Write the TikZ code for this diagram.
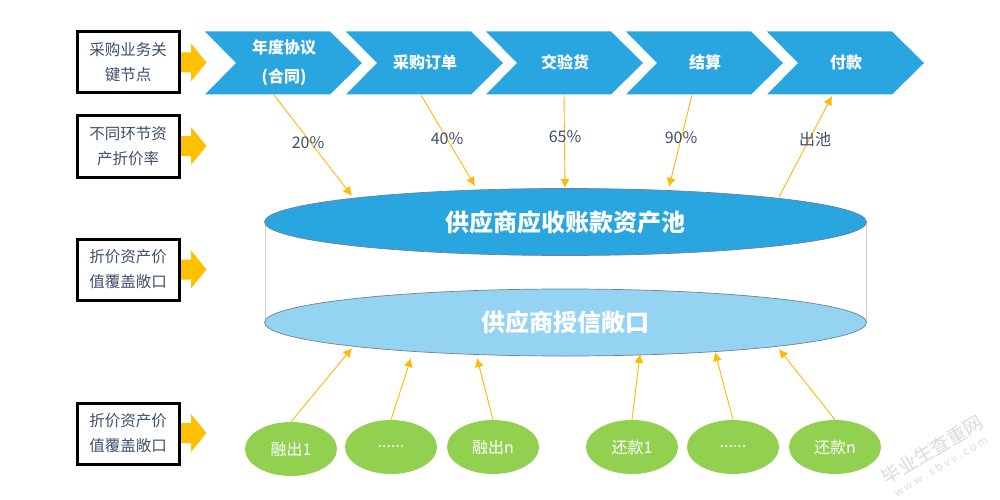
\documentclass[tikz,border=0pt]{standalone}
\usepackage{fontspec}
\setmainfont{Noto Sans CJK SC}
\usetikzlibrary{calc,shapes.geometric,arrows.meta}
\definecolor{chevblue}{HTML}{29A5E0}
\definecolor{lightpool}{HTML}{94D3F1}
\definecolor{amber}{HTML}{FFC000}
\definecolor{inktext}{HTML}{3F4F6B}
\definecolor{leaf}{HTML}{92D050}
\definecolor{edgegray}{HTML}{6F8296}
\definecolor{sidegray}{HTML}{D2D2C8}
\tikzset{
  keybox/.style={draw=black,line width=3pt,fill=white,minimum width=102pt,minimum height=61pt,inner sep=0pt,align=center,text=inktext,font=\fontsize{15.5}{25}\selectfont},
  chevtext/.style={text=white,inner sep=0pt,align=center,font=\fontsize{16}{29}\selectfont\bfseries},
  rate/.style={text=inktext,inner sep=1pt,font=\fontsize{16}{20}\selectfont},
  disc/.style={ellipse,draw=edgegray,line width=0.7pt,minimum width=602pt,minimum height=67pt,inner sep=0pt,text=white,font=\fontsize{24}{28}\selectfont\bfseries},
  greenball/.style={ellipse,fill=leaf,minimum width=92pt,minimum height=54pt,inner sep=0pt,text=white,font=\fontsize{16}{20}\selectfont},
  arr/.style={draw=amber!90!orange,line width=0.9pt,-{Latex[length=9pt,width=9pt]}},
  wmark/.style={text=black!14,inner sep=0pt,rotate=31}
}
\newcommand{\chevshape}[1]{\fill[chevblue] (#1,31.5) -- ++(125,0) -- ++(32,31.5) -- ++(-32,31.5) -- ++(-125,0) -- ++(31,-31.5) -- cycle;}
\newcommand{\blockarrow}[1]{\fill[amber] (180,#1-10) -- (191,#1-10) -- (191,#1-19) -- (206.5,#1) -- (191,#1+19) -- (191,#1+10) -- (180,#1+10) -- cycle;}
\begin{document}
\begin{tikzpicture}[x=1pt,y=-1pt]
\useasboundingbox (0,0) rectangle (1000,500);
\fill[white] (0,0) rectangle (1000,500);
% chevrons
\chevshape{205}\chevshape{346}\chevshape{486}\chevshape{626}\chevshape{767}
\node[chevtext] (c1) at (284,62.5) {年度协议\\(合同)};
\node[chevtext] (c2) at (425,62) {采购订单};
\node[chevtext] (c3) at (565,62) {交验货};
\node[chevtext] (c4) at (705,62) {结算};
\node[chevtext] (c5) at (846,62) {付款};
% side arrows and boxes
\blockarrow{62.5}\blockarrow{146}\blockarrow{269.5}\blockarrow{433}
\node[keybox] (k1) at (128,62.5) {采购业务关\\键节点};
\node[keybox] (k2) at (128,146.5) {不同环节资\\产折价率};
\node[keybox] (k3) at (128,269.5) {折价资产价\\值覆盖敞口};
\node[keybox] (k4) at (128,433.5) {折价资产价\\值覆盖敞口};
% cylinder
\draw[sidegray,line width=0.8pt] (265,222) -- (265,322);
\draw[sidegray,line width=0.8pt] (866,222) -- (866,322);
\node[disc,fill=lightpool] (credit) at (565.5,322.5) {供应商授信敞口};
\node[disc,fill=chevblue] (pool) at (565.5,222) {供应商应收账款资产池};
% connector ends
\coordinate (s1) at (274,95); \coordinate (e1) at (352,196);
\coordinate (s2) at (421,95); \coordinate (e2) at (475,186);
\coordinate (s3) at (564,95); \coordinate (e3) at (565,188);
\coordinate (s4) at (692,95); \coordinate (e4) at (669,187);
\coordinate (s5) at (779,197); \coordinate (e5) at (832,96);
\draw[arr] (s1) -- (e1);
\draw[arr] (s2) -- (e2);
\draw[arr] (s3) -- (e3);
\draw[arr] (s4) -- (e4);
\draw[arr] (s5) -- (e5);
\node[rate] (r1) at (308,143) {20\%};
\node[rate] (r2) at (447,139) {40\%};
\node[rate] (r3) at (565,137) {65\%};
\node[rate] (r4) at (681,138) {90\%};
\node[rate] (r5) at (815,139) {出池};
% green balls
\node[greenball] (g1) at (291,449) {融出1};
\node[greenball] (g2) at (391,447) {......};
\node[greenball] (g3) at (493,447) {融出n};
\node[greenball] (g4) at (632,447) {还款1};
\node[greenball] (g5) at (733,447) {......};
\node[greenball] (g6) at (835,447) {还款n};
\coordinate (t1) at (352,348);
\coordinate (t2) at (411,358);
\coordinate (t3) at (477,358);
\coordinate (t4) at (640,354);
\coordinate (t5) at (715,352);
\coordinate (t6) at (779,349);
\draw[arr] (g1.north) -- (t1);
\draw[arr] (g2.north) -- (t2);
\draw[arr] (g3.north) -- (t3);
\draw[arr] (g4.north) -- (t4);
\draw[arr] (g5.north) -- (t5);
\draw[arr] (g6.north) -- (t6);
% watermark
\node[wmark,font=\fontsize{19}{22}\selectfont] (w1) at (932,450) {毕业生查重网};
\node[wmark,font=\fontsize{11}{13}\selectfont] (w2) at (941,466) {w w w . s b v v . c o m};
\end{tikzpicture}
\end{document}
